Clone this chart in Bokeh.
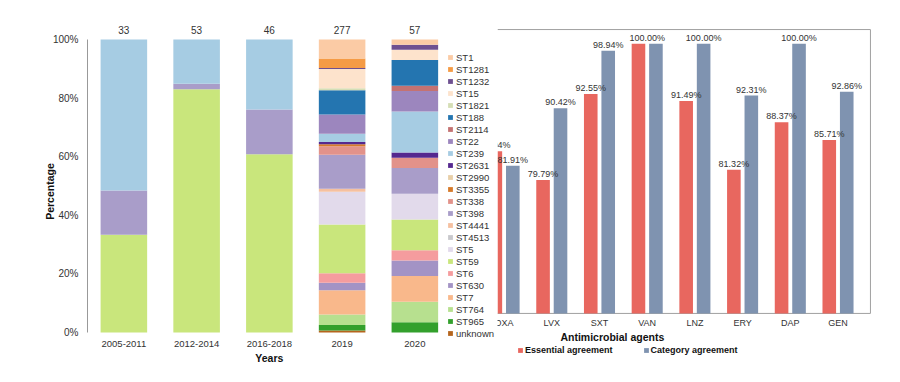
import numpy as np
from bokeh.plotting import figure
from bokeh.layouts import row
from bokeh.core.properties import value
from bokeh.models import (ColumnDataSource, Range1d, Legend, LegendItem,
                          NumeralTickFormatter, FixedTicker)
from bokeh.embed import file_html
from bokeh.resources import INLINE

FONT = "Liberation Sans"
TXT = "#333333"
DARK = "#111111"

# ---------------- left chart data ----------------
periods = ["2005-2011", "2012-2014", "2016-2018", "2019", "2020"]
totals = [33, 53, 46, 277, 57]
st_types = ["ST1", "ST1281", "ST1232", "ST15", "ST1821", "ST188", "ST2114", "ST22", "ST239",
            "ST2631", "ST2990", "ST3355", "ST338", "ST398", "ST4441", "ST4513", "ST5", "ST59",
            "ST6", "ST630", "ST7", "ST764", "ST965", "unknown"]
st_colors = ["#FBCBA5", "#F59B45", "#6E5090", "#FDE3CC", "#D5DEB5", "#2475B0", "#C47272", "#9C86BE",
             "#A6CCE3", "#55288F", "#E8CFA8", "#D67A2A", "#E2928A", "#A99DC9", "#F5C0A0", "#C8C8CC",
             "#E2DAEB", "#C9E67C", "#F59C9E", "#A393C5", "#F9B88B", "#B7E08F", "#33A02C", "#B5651D"]
#                    ST1 1281 1232 15 1821 188 2114 22 239 2631 2990 3355 338 398 4441 4513 5 59 6 630 7 764 965 unk
counts_2005_2011 = [0, 0, 0, 0, 0, 0, 0, 0, 17, 0, 0, 0, 0, 5, 0, 0, 0, 11, 0, 0, 0, 0, 0, 0]
counts_2012_2014 = [0, 0, 0, 0, 0, 0, 0, 0, 8, 0, 0, 0, 0, 1, 0, 0, 0, 44, 0, 0, 0, 0, 0, 0]
counts_2016_2018 = [0, 0, 0, 0, 0, 0, 0, 0, 11, 0, 0, 0, 0, 7, 0, 0, 0, 28, 0, 0, 0, 0, 0, 0]
counts_2019 = [18, 9, 1, 18, 2, 23, 0, 18, 8, 2, 0, 2, 8, 32, 3, 0, 31, 46, 9, 7, 23, 10, 5, 2]
counts_2020 = [1, 0, 1, 2, 0, 5, 1, 4, 8, 1, 0, 0, 2, 5, 0, 0, 5, 6, 2, 3, 5, 4, 2, 0]

# ---------------- right chart data ----------------
agents = ["OXA", "LVX", "SXT", "VAN", "LNZ", "ERY", "DAP", "GEN"]
essential = [84.04, 79.79, 92.55, 100.00, 91.49, 81.32, 88.37, 85.71]
category = [81.91, 90.42, 98.94, 100.00, 100.00, 92.31, 100.00, 92.86]

# ================= left figure =================
all_counts = [counts_2005_2011, counts_2012_2014, counts_2016_2018, counts_2019, counts_2020]
pidx = list(range(len(periods)))
data = {"x": pidx}
for j, st in enumerate(st_types):
    data[st] = [c[j] / t for c, t in zip(all_counts, totals)]
src = ColumnDataSource(data)

p = figure(width=497, height=382, x_range=Range1d(-0.5, 5.136), y_range=Range1d(-0.1706, 1.1331),
           output_backend="svg", toolbar_location=None, x_axis_location=None,
           min_border_left=87, min_border_top=0, min_border_bottom=0, min_border_right=0)
p.outline_line_color = None
p.grid.grid_line_color = None

stack_order = list(reversed(st_types))
rends = p.vbar_stack(stack_order, x="x", width=0.64, source=src,
                     fill_color=list(reversed(st_colors)), line_color=None)

# sample sizes above bars, category labels and axis title below
p.text(x=pidx, y=[1.0] * len(pidx), text=[str(t) for t in totals], text_align="center",
       text_baseline="middle", y_offset=-9, text_font_size="10px", text_color=TXT,
       text_font=value(FONT))
p.text(x=pidx, y=[0.0] * len(pidx), text=periods, text_align="center",
       text_baseline="middle", y_offset=11, text_font_size="9.5px", text_color=TXT,
       text_font=value(FONT))
p.text(x=[float(np.mean(pidx))], y=[0.0], text=["Years"], text_align="center",
       text_baseline="middle", y_offset=25, text_font_size="10.5px", text_color=DARK,
       text_font=value(FONT), text_font_style="bold")

p.yaxis.ticker = FixedTicker(ticks=[0, 0.2, 0.4, 0.6, 0.8, 1.0])
p.yaxis.bounds = (0, 1)
p.yaxis.formatter = NumeralTickFormatter(format="0%")
p.yaxis.axis_line_color = "#999999"
p.yaxis.major_tick_line_color = None
p.yaxis.minor_tick_line_color = None
p.yaxis.major_tick_out = 0
p.yaxis.minor_tick_out = 0
p.yaxis.major_label_standoff = 9
p.yaxis.major_label_text_font = FONT
p.yaxis.major_label_text_font_size = "10px"
p.yaxis.major_label_text_color = TXT
p.yaxis.axis_label = "Percentage"
p.yaxis.axis_label_text_font = FONT
p.yaxis.axis_label_text_font_style = "bold"
p.yaxis.axis_label_text_font_size = "10.5px"
p.yaxis.axis_label_text_color = DARK
p.yaxis.axis_label_standoff = -6

items = [LegendItem(label=name, renderers=[r]) for name, r in zip(stack_order, rends)]
items = list(reversed(items))
leg = Legend(items=items, location=(360, 43), margin=0, padding=0, spacing=0,
             glyph_width=6, glyph_height=6, label_height=12, label_standoff=3,
             label_text_font=FONT, label_text_font_size="9.5px", label_text_color=TXT,
             border_line_color=None, background_fill_alpha=0)
p.add_layout(leg)

# ================= right figure =================
idx = np.arange(len(agents))
off = 0.183
y_base, y_box_top = 60.0, 102.1
x_box_right = 7.68
q = figure(width=403, height=382, x_range=Range1d(-0.138, 8.31), y_range=Range1d(49.755, 106.41),
           output_backend="svg", toolbar_location=None, y_axis_location=None, x_axis_location=None,
           min_border_left=0, min_border_right=0, min_border_top=0, min_border_bottom=0)
q.outline_line_color = None
q.grid.grid_line_color = None

# plot box (top, right, bottom)
x0 = q.x_range.start
q.segment(x0=[x0, x_box_right, x0], y0=[y_box_top, y_base, y_base],
          x1=[x_box_right, x_box_right, x_box_right], y1=[y_box_top, y_box_top, y_base],
          line_color="#A0A0A0", line_width=1)

r_ess = q.vbar(x=idx - off, top=essential, bottom=y_base, width=0.285,
               fill_color="#E8675F", line_color=None)
r_cat = q.vbar(x=idx + off, top=category, bottom=y_base, width=0.285,
               fill_color="#7F93B0", line_color=None)

lab_x, lab_y, lab_t = [], [], []
for i, (e, c) in enumerate(zip(essential, category)):
    if e == c:
        lab_x.append(i); lab_y.append(e); lab_t.append(f"{e:.2f}%")
    else:
        lab_x += [i - off, i + off]; lab_y += [e, c]; lab_t += [f"{e:.2f}%", f"{c:.2f}%"]
q.text(x=lab_x, y=lab_y, text=lab_t, text_align="center", text_baseline="bottom",
       y_offset=-1, text_font_size="9px", text_color=TXT, text_font=value(FONT))

q.text(x=idx, y=[y_base] * len(agents), text=agents, text_align="center",
       text_baseline="middle", y_offset=10, text_font_size="9px", text_color=TXT,
       text_font=value(FONT))
q.text(x=[2.27], y=[y_base], text=["Antimicrobial agents"], text_align="center",
       text_baseline="middle", y_offset=24, text_font_size="10.5px", text_color=DARK,
       text_font=value(FONT), text_font_style="bold")

leg2 = Legend(items=[LegendItem(label="Essential agreement", renderers=[r_ess]),
                     LegendItem(label="Category agreement", renderers=[r_cat])],
              orientation="horizontal", location=(20, 27), margin=0, padding=3, spacing=30,
              glyph_width=6, glyph_height=6, label_standoff=2, label_height=10,
              label_text_font=FONT, label_text_font_size="9px", label_text_font_style="bold",
              label_text_color=DARK, border_line_color=None, background_fill_alpha=0)
q.add_layout(leg2)

layout = row(p, q, spacing=0)
open("out.html", "w").write(file_html(layout, INLINE))
